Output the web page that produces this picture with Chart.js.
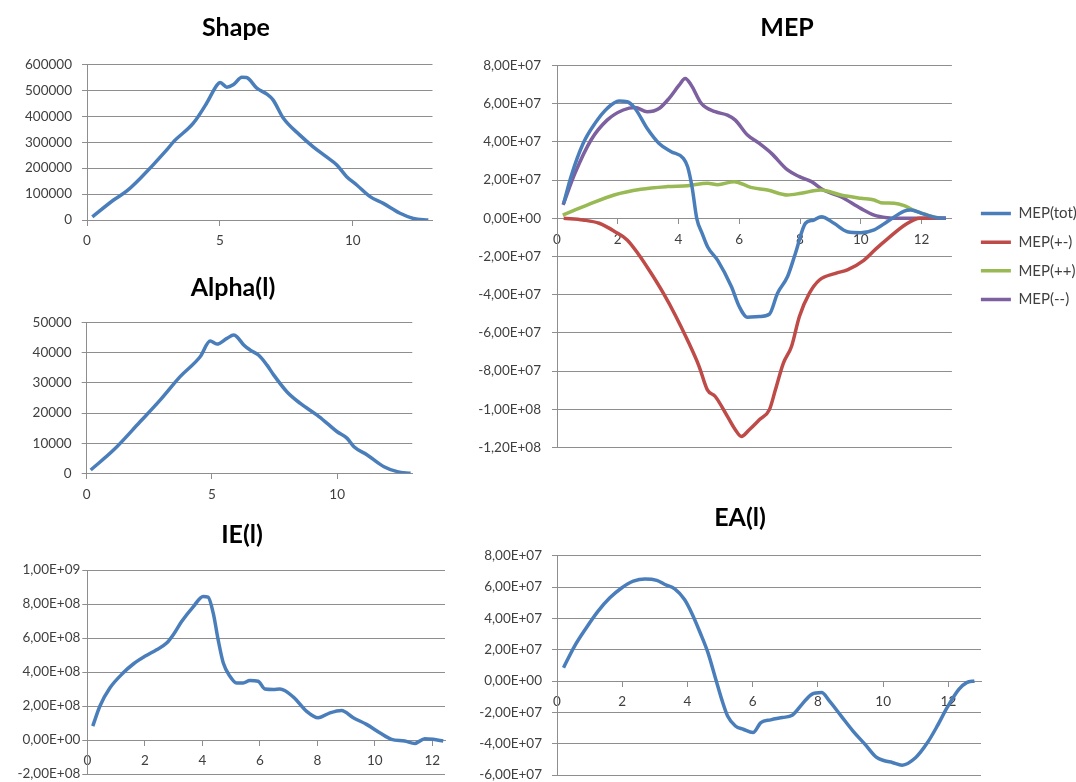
<!DOCTYPE html>
<html>
<head>
<meta charset="utf-8">
<title>Shape / Alpha / IE / MEP / EA</title>
<script src="https://cdn.jsdelivr.net/npm/chart.js@4/dist/chart.umd.min.js"></script>
<style>
  html, body { margin: 0; padding: 0; background: #fff; width: 1076px; height: 782px; overflow: hidden; }
  .box { position: absolute; }
  .box canvas { display: block; }
</style>
</head>
<body>
<div class="box" id="b-shape"><canvas id="c-shape"></canvas></div>
<div class="box" id="b-alpha"><canvas id="c-alpha"></canvas></div>
<div class="box" id="b-ie"><canvas id="c-ie"></canvas></div>
<div class="box" id="b-mep"><canvas id="c-mep"></canvas></div>
<div class="box" id="b-ea"><canvas id="c-ea"></canvas></div>
<script>
/* ---------- data ---------- */

// Shape
const shapeX = [0.2, 1.0, 1.5, 2.0, 3.0, 3.26, 4.0, 4.5, 4.89, 5.01, 5.26, 5.5, 5.83, 6.0, 6.39, 6.77, 7.0, 7.39, 8.0, 8.5, 9.0, 9.4, 9.77, 10.15, 10.65, 11.15, 11.78, 12.28, 12.84];
const shapeY = [12000, 77000, 112000, 160000, 270000, 302000, 373000, 450000, 520000, 530000, 512000, 521000, 550000, 549000, 508000, 485000, 463000, 392000, 328000, 283000, 244000, 212000, 167000, 135000, 90000, 64000, 26000, 6000, 0];

// Alpha(l)
const alphaX = [0.16, 1.07, 2.13, 2.93, 3.73, 4.53, 4.93, 5.2, 5.6, 5.87, 6.0, 6.27, 6.53, 6.87, 7.2, 7.47, 8.0, 8.53, 9.2, 9.6, 10.0, 10.4, 10.67, 11.2, 11.87, 12.4, 12.93];
const alphaY = [1100, 7700, 17100, 24300, 32100, 38700, 43900, 42900, 44800, 45900, 45300, 42600, 40900, 39200, 35900, 32600, 27000, 23200, 19300, 16600, 13800, 11600, 8800, 6100, 2200, 550, 0];

// IE(l)
const ieX = [0.19, 0.44, 0.79, 1.25, 1.6, 2.0, 2.41, 2.76, 2.99, 3.28, 3.69, 4.03, 4.2, 4.38, 4.55, 4.73, 4.96, 5.19, 5.42, 5.65, 5.94, 6.18, 6.47, 6.7, 7.16, 7.62, 8.03, 8.44, 8.84, 9.25, 9.71, 10.17, 10.58, 11.04, 11.39, 11.74, 12.03, 12.38];
const ieY = [0.82e8, 2.0e8, 3.07e8, 3.95e8, 4.47e8, 4.92e8, 5.31e8, 5.7e8, 6.19e8, 6.97e8, 7.85e8, 8.44e8, 8.4e8, 7.46e8, 5.9e8, 4.53e8, 3.75e8, 3.36e8, 3.36e8, 3.5e8, 3.46e8, 3.0e8, 2.97e8, 3.0e8, 2.54e8, 1.7e8, 1.31e8, 1.6e8, 1.74e8, 1.31e8, 0.92e8, 0.43e8, 0.04e8, -0.06e8, -0.2e8, 0.08e8, 0.04e8, -0.06e8];

// MEP
const mepLabels = ['MEP(tot)', 'MEP(+-)', 'MEP(++)', 'MEP(--)'];
const mepTotX = [0.22, 0.46, 0.86, 1.25, 1.65, 2.04, 2.31, 2.57, 2.97, 3.36, 3.76, 4.16, 4.3, 4.45, 4.6, 4.78, 4.96, 5.29, 5.74, 6.0, 6.27, 6.66, 6.99, 7.26, 7.59, 7.85, 8.18, 8.44, 8.7, 9.12, 9.56, 10.0, 10.44, 10.88, 11.43, 11.65, 12.0, 12.5, 12.8];
const mepTotY = [0.78e7, 2.18e7, 3.92e7, 4.97e7, 5.75e7, 6.14e7, 6.1e7, 5.75e7, 4.7e7, 3.92e7, 3.49e7, 3.14e7, 2.7e7, 1.6e7, 0, -0.8e7, -1.5e7, -2.2e7, -3.57e7, -4.62e7, -5.18e7, -5.14e7, -5.02e7, -3.92e7, -3.05e7, -1.83e7, -0.26e7, -0.1e7, 0.08e7, -0.26e7, -0.7e7, -0.75e7, -0.6e7, -0.17e7, 0.38e7, 0.43e7, 0.26e7, 0.03e7, 0];
const mepPmX = [0.22, 0.86, 1.39, 1.91, 2.31, 2.7, 3.1, 3.5, 3.89, 4.29, 4.68, 4.95, 5.21, 5.61, 5.87, 6.07, 6.33, 6.66, 6.99, 7.19, 7.45, 7.72, 7.98, 8.31, 8.64, 9.17, 9.56, 10.1, 10.5, 10.9, 11.5, 11.94, 12.8];
const mepPmY = [0, -0.09e7, -0.26e7, -0.7e7, -1.13e7, -1.92e7, -2.88e7, -3.92e7, -5.06e7, -6.36e7, -7.76e7, -8.98e7, -9.33e7, -10.37e7, -11.07e7, -11.42e7, -11.07e7, -10.55e7, -10.03e7, -8.98e7, -7.59e7, -6.71e7, -5.14e7, -3.92e7, -3.23e7, -2.88e7, -2.7e7, -2.2e7, -1.6e7, -1.05e7, -0.3e7, 0, 0];
const mepPpX = [0.19, 1.01, 1.88, 2.76, 3.64, 4.3, 4.96, 5.29, 5.83, 6.38, 6.93, 7.59, 8.03, 8.68, 9.34, 10.0, 10.44, 10.66, 11.1, 11.43, 11.77, 12.2, 12.58];
const mepPpY = [0.17e7, 0.7e7, 1.22e7, 1.52e7, 1.66e7, 1.71e7, 1.83e7, 1.76e7, 1.92e7, 1.62e7, 1.48e7, 1.22e7, 1.31e7, 1.48e7, 1.22e7, 1.05e7, 0.96e7, 0.82e7, 0.79e7, 0.66e7, 0.4e7, 0.17e7, 0];
const mepMmX = [0.2, 0.59, 1.12, 1.65, 2.18, 2.57, 2.97, 3.36, 3.69, 4.02, 4.22, 4.42, 4.75, 5.21, 5.61, 5.87, 6.27, 6.66, 7.06, 7.59, 7.98, 8.38, 8.77, 9.34, 10.0, 10.44, 10.88, 11.2, 12.8];
const mepMmY = [0.7e7, 2.35e7, 4.1e7, 5.14e7, 5.67e7, 5.8e7, 5.58e7, 5.75e7, 6.28e7, 6.97e7, 7.32e7, 6.97e7, 6.02e7, 5.58e7, 5.4e7, 5.14e7, 4.36e7, 3.92e7, 3.4e7, 2.53e7, 2.18e7, 1.92e7, 1.48e7, 1.13e7, 0.52e7, 0.17e7, 0.03e7, 0, 0];

// EA(l)
const eaX = [0.2, 0.54, 0.9, 1.26, 1.62, 1.98, 2.34, 2.7, 3.06, 3.31, 3.61, 3.91, 4.15, 4.39, 4.63, 4.87, 5.05, 5.23, 5.47, 5.71, 6.01, 6.25, 6.55, 6.91, 7.21, 7.51, 7.81, 8.11, 8.35, 8.71, 9.07, 9.44, 9.8, 10.04, 10.28, 10.58, 11.0, 11.36, 11.66, 11.96, 12.32, 12.56, 12.8];
const eaY = [0.85e7, 2.23e7, 3.4e7, 4.46e7, 5.31e7, 5.94e7, 6.37e7, 6.52e7, 6.43e7, 6.16e7, 5.88e7, 5.2e7, 4.25e7, 3.08e7, 1.8e7, 0.1e7, -1.17e7, -2.23e7, -2.87e7, -3.08e7, -3.29e7, -2.65e7, -2.48e7, -2.33e7, -2.19e7, -1.49e7, -0.85e7, -0.74e7, -1.27e7, -2.23e7, -3.18e7, -4.03e7, -4.88e7, -5.09e7, -5.2e7, -5.37e7, -4.88e7, -3.93e7, -2.87e7, -1.7e7, -0.53e7, -0.1e7, 0];

/* ---------- look ---------- */
const FONT = 'Lato, "Open Sans", sans-serif';
const TXT = '#404040';
const GRID = '#8e8e8e';
const BLUE = '#4a7ebb', RED = '#be4b48', GREEN = '#98b954', PURPLE = '#7d60a0';
const TICK_FONT = { family: FONT, size: 13.5 };
const LEGEND_FONT = { family: FONT, size: 15 };

const pts = (xs, ys) => xs.map((x, i) => ({ x, y: ys[i] }));

// Excel style "8,00E+07"
function sci(v) {
  if (Math.abs(v) < 1e-6) return '0,00E+00';
  let e = Math.floor(Math.log10(Math.abs(v)));
  let m = v / Math.pow(10, e);
  if (Math.abs(+m.toFixed(2)) >= 10) { m /= 10; e += 1; }
  return m.toFixed(2).replace('.', ',') + 'E' + (e < 0 ? '-' : '+') + String(Math.abs(e)).padStart(2, '0');
}
const plain = v => String(Math.round(v));

function line(label, data, color) {
  return {
    label, data,
    borderColor: color, backgroundColor: color,
    borderWidth: 3.5, pointRadius: 0, fill: false,
    cubicInterpolationMode: 'monotone'
  };
}

// invisible axis used only to reserve room on the right
const spacer = (width, weight) => ({
  position: 'right', display: true, weight,
  grid: { display: false }, border: { display: false }, ticks: { display: false },
  afterFit: a => { a.width = width; }
});

// g: box geometry, s: scale settings
function makeChart(id, g, s, title, datasets, legend) {
  const box = document.getElementById('b-' + id);
  box.style.left = g.left + 'px';
  box.style.top = g.top + 'px';
  const cv = document.getElementById('c-' + id);
  cv.width = g.w; cv.height = g.h;
  cv.style.width = g.w + 'px'; cv.style.height = g.h + 'px';

  const scales = {
    x: {
      type: 'linear', min: 0, max: s.xMax,
      position: { y: 0 },
      afterFit: a => { a.height = 0; a.paddingLeft = 0; a.paddingRight = 0; },
      grid: { drawOnChartArea: false, drawTicks: true, tickLength: 5, color: GRID },
      border: { color: GRID, width: 1 },
      ticks: { stepSize: s.xStep, includeBounds: false, padding: 8, color: TXT, font: TICK_FONT, maxRotation: 0, autoSkip: false }
    },
    y: {
      min: s.yMin, max: s.yMax,
      afterFit: a => { a.width = g.yw; a.paddingTop = 0; a.paddingBottom = 0; },
      grid: { color: GRID, tickLength: 5 },
      border: { color: GRID, width: 1 },
      ticks: { stepSize: s.yStep, padding: s.yPad, color: TXT, font: TICK_FONT, callback: s.fmt }
    },
    y2: spacer(g.sp, 0)
  };
  if (legend) scales.y3 = spacer(legend.outer, 5000);

  return new Chart(cv, {
    type: 'line',
    data: { datasets },
    options: {
      responsive: false,
      animation: false,
      events: [],
      layout: { padding: { left: 0, right: 0, top: 0, bottom: g.pb } },
      scales,
      plugins: {
        tooltip: { enabled: false },
        title: {
          display: true, text: title, color: '#000',
          font: { family: FONT, size: 25, weight: 'bold' },
          padding: { top: g.tt, bottom: g.tb }
        },
        legend: legend ? {
          display: true, position: 'right', fullSize: false, align: 'center',
          maxWidth: 300,
          labels: {
            usePointStyle: true, pointStyle: 'line', pointStyleWidth: 30,
            padding: 13.7, color: TXT, font: LEGEND_FONT
          }
        } : { display: false }
      }
    }
  });
}

makeChart('shape',
  { left: 0, top: 0, w: 472, h: 250, yw: 87, sp: 39.5, pb: 30, tt: 13, tb: 21.3 },
  { xMax: 13, xStep: 5, yMin: 0, yMax: 600000, yStep: 100000, yPad: 10, fmt: plain },
  'Shape', [line('Shape', pts(shapeX, shapeY), BLUE)]);

makeChart('alpha',
  { left: 0, top: 250, w: 466, h: 253, yw: 86.7, sp: 53.7, pb: 29.7, tt: 23, tb: 19.7 },
  { xMax: 13, xStep: 5, yMin: 0, yMax: 50000, yStep: 10000, yPad: 10, fmt: plain },
  'Alpha(l)', [line('Alpha(l)', pts(alphaX, alphaY), BLUE)]);

makeChart('ie',
  { left: 0, top: 500, w: 484, h: 282, yw: 87.3, sp: 39, pb: 8, tt: 20, tb: 20 },
  { xMax: 12.44, xStep: 2, yMin: -2e8, yMax: 1e9, yStep: 2e8, yPad: 2, fmt: sci },
  'IE(l)', [line('IE(l)', pts(ieX, ieY), BLUE)]);

makeChart('mep',
  { left: 470, top: 0, w: 634, h: 456, yw: 87, sp: 15.3, pb: 8.5, tt: 13, tb: 22.5 },
  { xMax: 13, xStep: 2, yMin: -1.2e8, yMax: 8e7, yStep: 2e7, yPad: 11, fmt: sci },
  'MEP', [
    line(mepLabels[0], pts(mepTotX, mepTotY), BLUE),
    line(mepLabels[1], pts(mepPmX, mepPmY), RED),
    line(mepLabels[2], pts(mepPpX, mepPpY), GREEN),
    line(mepLabels[3], pts(mepMmX, mepMmY), PURPLE)
  ], { outer: 17.2 });

makeChart('ea',
  { left: 470, top: 500, w: 540, h: 282, yw: 87, sp: 29, pb: 7, tt: 3, tb: 22.7 },
  { xMax: 13, xStep: 2, yMin: -6e7, yMax: 8e7, yStep: 2e7, yPad: 10, fmt: sci },
  'EA(l)', [line('EA(l)', pts(eaX, eaY), BLUE)]);
</script>
</body>
</html>
